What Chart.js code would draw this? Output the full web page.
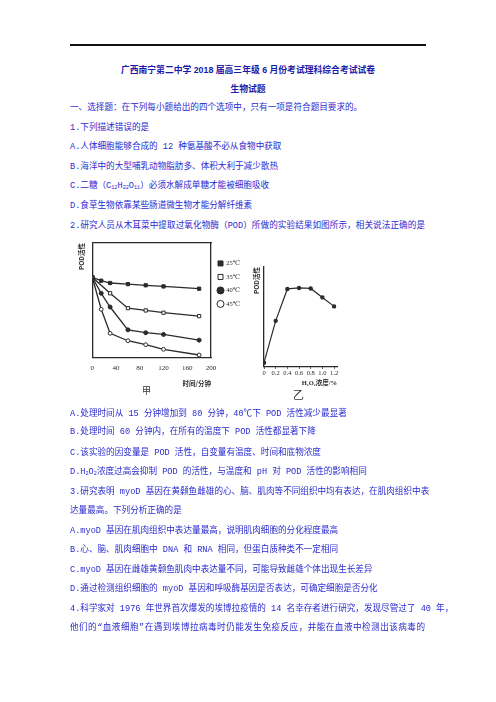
<!DOCTYPE html>
<html>
<head>
<meta charset="utf-8">
<script src="https://cdn.jsdelivr.net/npm/chart.js@4.4.1/dist/chart.umd.min.js"></script>
<style>
  html, body { margin:0; padding:0; background:#fff; }
  #page { position:relative; width:496px; height:702px; overflow:hidden; background:#fff; }
  .t { position:absolute; left:70px; font-size:8.6px; line-height:12px; white-space:nowrap;
       color:#2a2ad0; font-family:"Liberation Mono","Noto Sans CJK SC",sans-serif; }
  .j { width:355px; text-align:justify; text-align-last:justify; }
  .h { left:0; width:496px; text-align:center; font-weight:bold; color:#1a1aa8;
       font-family:"Liberation Sans","Noto Sans CJK SC",sans-serif; font-size:8.8px; }
  .rule { position:absolute; left:70px; top:44px; width:356px; height:1.5px; background:#111; }
  .chart { position:absolute; }
  .cap { position:absolute; color:#333; font-family:"Noto Sans CJK SC",sans-serif; }
  sub { font-size:0.6em; vertical-align:-0.25em; line-height:0; }
</style>
</head>
<body>
<div id="page">
  <div class="rule"></div>
  <div class="t h" style="top:64px">广西南宁第二中学 2018 届高三年级 6 月份考试理科综合考试试卷</div>
  <div class="t h" style="top:83px">生物试题</div>
  <div class="t" style="top:102px">一、选择题：在下列每小题给出的四个选项中，只有一项是符合题目要求的。</div>
  <div class="t" style="top:122px">1.下列描述错误的是</div>
  <div class="t" style="top:141px">A.人体细胞能够合成的 12 种氨基酸不必从食物中获取</div>
  <div class="t" style="top:161px">B.海洋中的大型哺乳动物脂肪多、体积大利于减少散热</div>
  <div class="t" style="top:180px">C.二糖（C<sub>12</sub>H<sub>22</sub>O<sub>11</sub>）必须水解成单糖才能被细胞吸收</div>
  <div class="t" style="top:200px">D.食草生物依靠某些肠道微生物才能分解纤维素</div>
  <div class="t j" style="top:220px">2.研究人员从木耳菜中提取过氧化物酶（POD）所做的实验结果如图所示，相关说法正确的是</div>

  <div class="chart" style="left:60px;top:236px;width:190px;height:160px"><canvas id="cA"></canvas></div>
  <div class="chart" style="left:240px;top:255px;width:115px;height:140px"><canvas id="cB"></canvas></div>
  <div class="cap" style="left:142px;top:385px;font-size:9px;line-height:12px">甲</div>
  <div class="cap" style="left:293px;top:387px;font-size:11px;line-height:14px">乙</div>

  <div class="t" style="top:408px">A.处理时间从 15 分钟增加到 80 分钟，40℃下 POD 活性减少最显著</div>
  <div class="t" style="top:426px">B.处理时间 60 分钟内，在所有的温度下 POD 活性都显著下降</div>
  <div class="t" style="top:447px">C.该实验的因变量是 POD 活性，自变量有温度、时间和底物浓度</div>
  <div class="t" style="top:466px">D.H<sub>2</sub>O<sub>2</sub>浓度过高会抑制 POD 的活性，与温度和 pH 对 POD 活性的影响相同</div>
  <div class="t j" style="top:486px">3.研究表明 myoD 基因在黄颡鱼雌雄的心、脑、肌肉等不同组织中均有表达，在肌肉组织中表</div>
  <div class="t" style="top:505px">达量最高。下列分析正确的是</div>
  <div class="t" style="top:525px">A.myoD 基因在肌肉组织中表达量最高，说明肌肉细胞的分化程度最高</div>
  <div class="t" style="top:544px">B.心、脑、肌肉细胞中 DNA 和 RNA 相同，但蛋白质种类不一定相同</div>
  <div class="t" style="top:564px">C.myoD 基因在雌雄黄颡鱼肌肉中表达量不同，可能导致雌雄个体出现生长差异</div>
  <div class="t" style="top:583px">D.通过检测组织细胞的 myoD 基因和呼吸酶基因是否表达，可确定细胞是否分化</div>
  <div class="t j" style="top:603px">4.科学家对 1976 年世界首次爆发的埃博拉疫情的 14 名幸存者进行研究，发现尽管过了 40 年，</div>
  <div class="t j" style="top:622px">他们的“血液细胞”在遇到埃博拉病毒时仍能发生免疫反应，并能在血液中检测出该病毒的</div>
</div>

<script>
// ---- data: chart 甲 (POD activity vs time at four temperatures) ----
const timeMin = [0, 15, 30, 60, 90, 120, 180];
const pod25 = [70, 67, 65, 64, 63, 62, 60];
const pod35 = [70, null, 56, 43, 41, 39, 36];
const pod40 = [70, 56, 44, 24, 21.5, 20, 15];
const pod45 = [70, 42, 21, 14.5, 11, 7, 2];
const seriesLabels = ['25℃', '35℃', '40℃', '45℃'];
const timeTicks = [0, 40, 80, 120, 160, 200];

// ---- data: chart 乙 (POD activity vs H2O2 concentration) ----
const h2o2 = [0, 0.2, 0.4, 0.6, 0.8, 1.0, 1.2];
const podH = [4, 46, 78, 79, 78.5, 69.5, 60.5];
const h2o2Ticks = [0, 0.2, 0.4, 0.6, 0.8, 1.0, 1.2];
const h2o2TickLabels = ['0', '0.2', '0.4', '0.6', '0.8', '1.0', '1.2'];

const INK = '#2b2b2b';
const serif = "'Liberation Serif', 'DejaVu Serif', serif";
const cjk = "'Noto Sans CJK SC', sans-serif";

function pts(xs, ys) { return xs.map((x, i) => ({x: x, y: ys[i]})); }

Chart.defaults.animation = false;

const styleA = [
  {style: 'rect', fill: INK, r: 2.3},
  {style: 'rect', fill: '#fff', r: 2.3},
  {style: 'circle', fill: INK, r: 2},
  {style: 'circle', fill: '#fff', r: 1.9}
];
const valuesA = [pod25, pod35, pod40, pod45];

new Chart(document.getElementById('cA'), {
  type: 'line',
  data: {
    datasets: valuesA.map((v, i) => ({
      label: seriesLabels[i],
      data: pts(timeMin, v),
      borderColor: INK,
      borderWidth: 1.3,
      backgroundColor: styleA[i].fill,
      pointStyle: styleA[i].style,
      pointRadius: styleA[i].r,
      pointBackgroundColor: styleA[i].fill,
      pointBorderColor: INK,
      pointBorderWidth: 1,
      spanGaps: true,
      tension: 0
    }))
  },
  options: {
    responsive: true, maintainAspectRatio: false,
    layout: {padding: {top: 7, left: 0, right: 0, bottom: 0}},
    plugins: {
      tooltip: {enabled: false},
      legend: {
        position: 'right', align: 'start', maxWidth: 39,
        title: {display: true, text: '', padding: 1.5, font: {size: 6}},
        labels: {usePointStyle: true, boxWidth: 5, boxHeight: 5, padding: 7,
                 color: INK, font: {size: 6.5, family: serif}}
      }
    },
    scales: {
      x: {
        type: 'linear', min: 0, max: 200,
        afterBuildTicks: s => { s.ticks = timeTicks.map(v => ({value: v})); },
        afterFit: s => { s.height = 38.7; },
        grid: {display: false, drawTicks: false},
        border: {display: true, color: INK, width: 1.3},
        ticks: {color: INK, padding: 7, font: {size: 7, family: serif}, maxRotation: 0},
        title: {display: true, text: '时间/分钟', align: 'end', color: INK,
                padding: {top: 0, bottom: 9}, font: {size: 6.5, weight: 'bold', family: cjk}}
      },
      y: {
        min: 0, max: 100,
        afterFit: s => { s.width = 32.3; },
        grid: {display: false},
        border: {display: true, color: INK, width: 1.3},
        ticks: {display: false},
        title: {display: true, text: 'POD活性', align: 'end', color: INK,
                padding: {top: 18, bottom: 0}, font: {size: 6.5, weight: 'bold', family: cjk}}
      },
      xTop: {
        type: 'linear', position: 'top', min: 0, max: 200,
        afterFit: s => { s.height = 0; },
        grid: {display: false}, ticks: {display: false},
        border: {display: true, color: INK, width: 1.3}
      },
      yRight: {
        type: 'linear', position: 'right', min: 0, max: 100,
        afterFit: s => { s.width = 0; },
        grid: {display: false}, ticks: {display: false},
        border: {display: true, color: INK, width: 1.3}
      }
    }
  }
});

new Chart(document.getElementById('cB'), {
  type: 'line',
  data: {
    datasets: [{
      label: 'POD活性',
      data: pts(h2o2, podH),
      borderColor: INK, borderWidth: 1.2,
      pointRadius: 1.6, pointBackgroundColor: INK, pointBorderColor: INK,
      tension: 0
    }]
  },
  options: {
    responsive: true, maintainAspectRatio: false,
    layout: {padding: {top: 12, left: 0, right: 18, bottom: 0}},
    plugins: {legend: {display: false}, tooltip: {enabled: false}},
    scales: {
      x: {
        type: 'linear', min: 0, max: 1.25,
        afterBuildTicks: s => { s.ticks = h2o2Ticks.map(v => ({value: v})); },
        afterFit: s => { s.height = 28.3; },
        grid: {display: true, drawOnChartArea: false, drawTicks: true, tickLength: 2, color: INK, lineWidth: 1},
        border: {display: true, color: INK, width: 1.3},
        ticks: {color: INK, padding: 1, maxRotation: 0, autoSkip: false,
                font: {size: 6.5, family: serif},
                callback: (v, i) => h2o2TickLabels[i]},
        title: {display: true, text: 'H₂O₂浓度/%', align: 'end', color: INK,
                padding: {top: 0, bottom: 8}, font: {size: 6.5, weight: 'bold', family: serif + ", " + cjk}}
      },
      y: {
        min: 0, max: 100,
        afterFit: s => { s.width = 24; },
        grid: {display: false},
        border: {display: true, color: INK, width: 1.3},
        ticks: {display: false},
        title: {display: true, text: 'POD活性', align: 'end', color: INK,
                padding: {top: 13, bottom: 0}, font: {size: 6.5, weight: 'bold', family: cjk}}
      }
    }
  }
});
</script>
</body>
</html>
